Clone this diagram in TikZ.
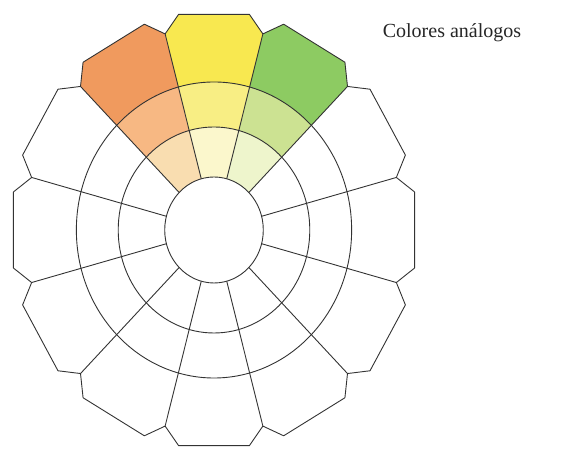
\documentclass[tikz,border=0pt]{standalone}
\usepackage{fontspec}
\setmainfont{Liberation Serif}
\definecolor{orangedeep}{HTML}{F09A5E}
\definecolor{orangemid}{HTML}{F7B883}
\definecolor{orangepale}{HTML}{F9DDB0}
\definecolor{yellowdeep}{HTML}{F8E850}
\definecolor{yellowmid}{HTML}{F8EE84}
\definecolor{yellowpale}{HTML}{FBF7CC}
\definecolor{greendeep}{HTML}{8DCB62}
\definecolor{greenmid}{HTML}{CCE292}
\definecolor{greenpale}{HTML}{EEF5CC}
\tikzset{
    cw line/.style={draw=black!80, line width=0.9pt, line join=round},
    cw label/.style={font=\fontsize{20}{24}\selectfont, text=black!85},
}

\begin{document}
\begin{tikzpicture}[x=1pt, y=1pt]
    \useasboundingbox (0,0) rectangle (570,449);
    \begin{scope}[shift={(214,219)}, xscale=0.93]
        % Analogous sectors: inner, middle and outer bands
        \foreach \c/\cin/\cmid/\cout in {120/orangepale/orangemid/orangedeep,
                                         90/yellowpale/yellowmid/yellowdeep,
                                         60/greenpale/greenmid/greendeep}{
            \pgfmathsetmacro\a{\c-15}
            \pgfmathsetmacro\b{\c+15}
            \fill[\cin] (\a:53) arc[start angle=\a, end angle=\b, radius=53]
                -- (\b:103) arc[start angle=\b, end angle=\a, radius=103] -- cycle;
            \fill[\cmid] (\a:103) arc[start angle=\a, end angle=\b, radius=103]
                -- (\b:148) arc[start angle=\b, end angle=\a, radius=148] -- cycle;
            \fill[\cout] (\a:148) arc[start angle=\a, end angle=\b, radius=148]
                -- (\b:203) -- (\b-5:219) -- (\a+5:219) -- (\a:203) -- cycle;
        }
        % Rings
        \draw[cw line] (0,0) circle[radius=53];
        \draw[cw line] (0,0) circle[radius=103];
        \draw[cw line] (0,0) circle[radius=148];
        % Spokes and outer rim
        \foreach \k in {0,...,11}{
            \pgfmathsetmacro\a{15+30*\k}
            \draw[cw line] (\a:53) -- (\a:203) -- (\a+5:219)
                -- (\a+25:219) -- (\a+30:203);
        }
    \end{scope}
    % Caption
    \node[cw label] (caption) at (452,416) {Colores análogos};
\end{tikzpicture}
\end{document}
